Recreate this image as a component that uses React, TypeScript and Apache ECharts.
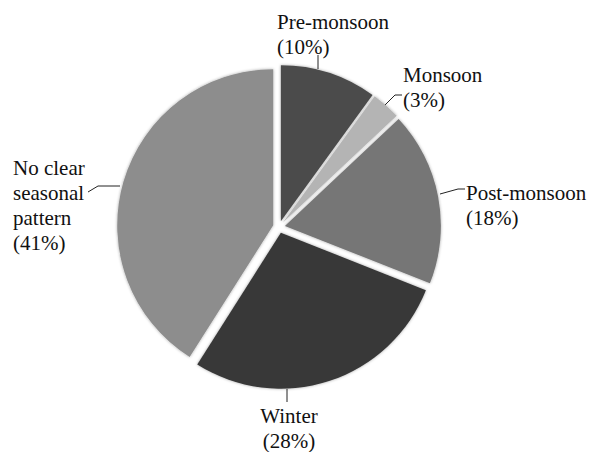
import React, { useEffect, useRef } from "react";
import * as echarts from "echarts";

const categories = [
  "Pre-monsoon",
  "Monsoon",
  "Post-monsoon",
  "Winter",
  "No clear\nseasonal\npattern",
];
const shares = [10, 3, 18, 28, 41];
const colors = ["#4b4b4b", "#b4b4b4", "#767676", "#383838", "#8d8d8d"];

// label placement (layout only)
const labelPos: { x: number; y: number; align: string; line: number[][] }[] = [
  { x: 277, y: 9, align: "left", line: [[318, 69], [318, 62], [318, 55]] },
  { x: 403, y: 62, align: "left", line: [[385, 105], [395, 95], [402, 95]] },
  { x: 466, y: 180, align: "left", line: [[440, 194], [458, 189], [465, 189]] },
  { x: 289, y: 403, align: "center", line: [[287, 389], [287, 396], [287, 402]] },
  { x: 13, y: 155, align: "left", line: [[120, 186], [98, 186], [88, 192]] },
];

export default function App() {
  const ref = useRef<HTMLDivElement>(null);
  useEffect(() => {
    if (!ref.current) return;
    const chart = echarts.init(ref.current, undefined, { renderer: "svg" });
    const graphics: any[] = [];
    categories.forEach((name, i) => {
      const lp = labelPos[i];
      graphics.push({
        type: "polyline",
        shape: { points: lp.line },
        style: { stroke: "#222", lineWidth: 1, fill: null },
        silent: true,
      });
      graphics.push({
        type: "text",
        x: lp.x,
        y: lp.y,
        silent: true,
        style: {
          text: `${name}\n(${shares[i]}%)`,
          fill: "#111",
          fontFamily: "Liberation Serif",
          fontSize: 21,
          lineHeight: 25,
          align: lp.align,
          verticalAlign: "top",
        },
      });
    });
    chart.setOption({
      animation: false,
      backgroundColor: "#ffffff",
      graphic: graphics,
      series: [
        {
          type: "pie",
          center: [279, 227],
          radius: 156,
          startAngle: 90,
          clockwise: true,
          selectedMode: "multiple",
          selectedOffset: 6,
          itemStyle: {
            shadowBlur: 3,
            shadowColor: "rgba(0,0,0,0.35)",
            borderWidth: 0,
          },
          select: { itemStyle: { borderWidth: 0 } },
          emphasis: { disabled: true },
          label: { show: false },
          labelLine: { show: false },
          data: categories.map((name, i) => ({
            name,
            value: shares[i],
            selected: true,
            itemStyle: { color: colors[i] },
          })),
        },
      ],
    });
    return () => chart.dispose();
  }, []);
  return (
    <div
      ref={ref}
      style={{ position: "absolute", left: 0, top: 0, width: 591, height: 452 }}
    />
  );
}
